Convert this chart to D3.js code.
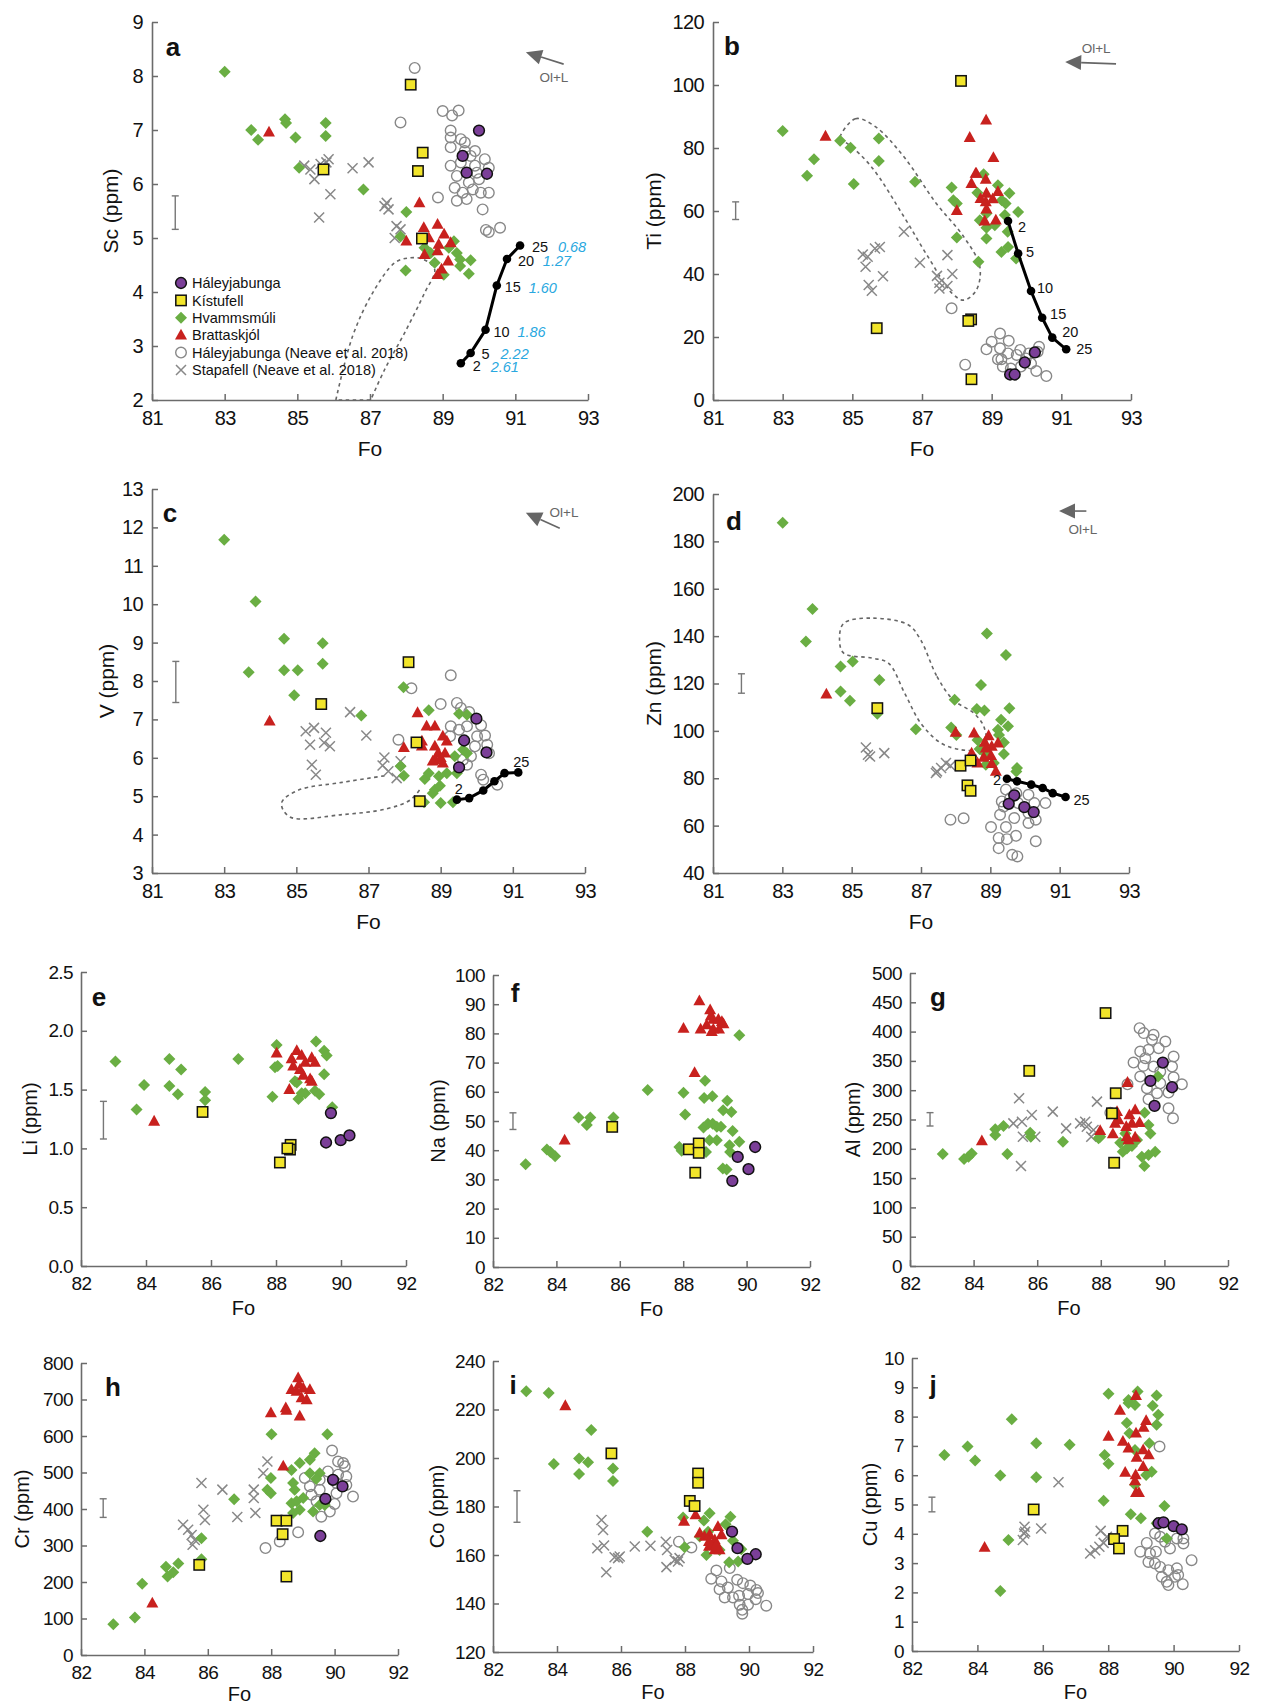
<!DOCTYPE html>
<html><head><meta charset="utf-8">
<script src="https://cdn.jsdelivr.net/npm/d3@7"></script>
<style>body{margin:0;background:#fff} svg text{font-family:"Liberation Sans",Arial,sans-serif}</style>
</head><body><svg id="c" width="1263" height="1707"></svg>
<script>
// ---------- DATA (Fo, value) ----------
// a: Sc
const sc_hal=[[90.0,6.99],[89.55,6.52],[89.66,6.21],[90.22,6.19]];
const sc_kis=[[88.12,7.84],[85.72,6.27],[88.45,6.58],[88.32,6.24],[88.43,4.99]];
const sc_hva=[[83.0,8.08],[83.73,7.0],[83.92,6.82],[84.66,7.2],[84.69,7.13],[84.95,6.86],[85.78,7.13],[85.78,6.89],[85.05,6.3],[86.82,5.9],[88.0,5.48],[87.98,4.4],[87.84,5.03],[88.67,4.72],[88.78,4.54],[89.03,4.32],[89.31,4.94],[89.39,4.72],[89.48,4.6],[89.48,4.48],[89.77,4.59],[89.72,4.34],[89.17,4.82],[88.5,4.82]];
const sc_bra=[[84.22,6.96],[88.36,5.65],[88.0,4.94],[88.48,5.19],[88.62,5.0],[88.86,5.25],[89.04,5.07],[89.22,4.91],[88.86,4.76],[88.5,4.69],[89.15,4.57],[88.97,4.42],[88.86,4.32],[88.89,4.88]];
const sc_neh=[[88.23,8.15],[87.84,7.14],[89.0,7.35],[89.26,7.27],[89.44,7.36],[89.22,6.99],[89.22,6.86],[89.5,6.83],[89.22,6.68],[89.61,6.77],[89.61,6.61],[89.89,6.61],[89.77,6.52],[89.5,6.4],[89.22,6.34],[89.89,6.34],[90.16,6.46],[90.27,6.3],[89.39,6.15],[90.0,6.09],[89.72,6.03],[89.33,5.93],[89.55,5.84],[89.83,5.9],[90.05,5.84],[90.27,5.84],[89.66,5.72],[88.87,5.75],[90.1,5.53],[90.19,5.15],[90.27,5.11],[90.58,5.19],[89.39,5.69],[89.94,6.21]];
const sc_sta=[[85.19,6.34],[85.36,6.27],[85.47,6.09],[85.64,6.37],[85.8,6.4],[85.86,6.46],[85.6,5.38],[85.91,5.81],[86.52,6.29],[86.96,6.4],[87.4,5.59],[87.46,5.65],[87.51,5.53],[87.73,5.22],[87.84,5.16],[87.68,5.0]];
const sc_model=[[89.5,2.68],[89.77,2.87],[90.18,3.3],[90.49,4.12],[90.77,4.61],[91.13,4.86]];
const sc_model_melt=["2.61","2.22","1.86","1.60","1.27","0.68"];
const sc_field=[[86.06,2.0],[86.52,3.18],[87.07,3.98],[87.68,4.54],[88.06,4.63],[88.45,4.61],[88.78,4.42],[88.5,3.98],[87.95,3.24],[87.4,2.56],[87.02,2.0]];
const sc_err=[81.64,5.16,5.78];
const sc_arrow=[[92.33,8.22],[91.29,8.44],[92.06,7.98]];
// b: Ti
const ti_hal=[[89.53,8.1],[89.66,8.1],[89.95,11.9],[90.24,15.1]];
const ti_kis=[[88.12,101.3],[85.7,22.8],[88.41,25.6],[88.33,25.1],[88.42,6.6]];
const ti_hva=[[83.0,85.4],[83.7,71.2],[83.9,76.4],[84.65,82.3],[84.95,80.1],[85.04,68.6],[85.76,83.0],[85.76,75.9],[86.8,69.3],[87.85,67.5],[87.9,63.4],[88.0,62.4],[88.0,51.6],[88.62,43.9],[88.59,65.8],[88.77,71.7],[89.18,68.2],[88.85,59.2],[88.66,57.1],[88.85,54.7],[88.85,51.3],[89.29,63.4],[89.4,62.4],[89.51,65.6],[89.76,59.7],[89.38,58.7],[89.46,53.4],[89.28,47.0],[89.47,48.6],[89.7,44.9],[89.09,55.5]];
const ti_bra=[[84.23,83.7],[88.84,88.8],[88.37,83.3],[89.05,76.9],[88.54,71.9],[88.42,68.7],[88.83,70.0],[88.56,71.9],[88.0,60.1],[88.85,65.6],[88.83,62.9],[89.03,63.8],[89.18,66.1],[88.85,60.6],[88.8,56.8],[89.12,57.1],[88.68,63.9]];
const ti_neh=[[87.85,29.1],[88.24,11.2],[88.85,16.1],[89.0,18.5],[89.24,21.1],[89.24,16.4],[89.49,18.8],[89.18,12.9],[89.28,12.9],[89.47,14.8],[89.32,10.6],[89.55,10.0],[89.72,14.3],[89.82,15.9],[89.98,13.2],[90.13,11.6],[90.28,9.2],[90.36,16.9],[90.32,15.3],[90.57,7.6],[89.84,10.6],[90.07,14.8]];
const ti_sta=[[85.3,46.2],[85.44,45.5],[85.38,42.3],[85.47,36.5],[85.56,34.7],[85.65,48.1],[85.79,48.6],[85.88,39.3],[86.48,53.4],[86.94,43.6],[87.43,39.4],[87.5,37.2],[87.5,35.4],[87.73,36.2],[87.73,46.0],[87.87,40.0]];
const ti_model=[[89.47,56.8],[89.76,46.5],[90.13,34.6],[90.45,26.1],[90.74,19.8],[91.14,16.1]];
const ti_field=[[84.63,82.5],[85.09,89.3],[85.67,86.7],[86.48,77.2],[87.41,62.4],[88.2,51.8],[88.66,42.3],[88.56,34.9],[88.2,31.7],[87.87,33.8],[87.17,45.5],[86.48,58.2],[85.55,74.0],[84.86,81.4]];
const ti_err=[81.65,57.3,62.9];
const ti_arrow=[[92.57,106.7],[91.11,107.3],[92.0,111.7]];
// c: V
const v_hal=[[89.99,7.02],[89.65,6.45],[90.27,6.14],[89.51,5.75]];
const v_kis=[[88.11,8.49],[85.69,7.4],[88.33,6.4],[88.42,4.87]];
const v_hva=[[83.0,11.68],[83.87,10.07],[83.68,8.23],[84.66,9.1],[84.66,8.28],[85.04,8.28],[85.73,8.98],[85.73,8.45],[84.94,7.63],[86.8,7.1],[87.97,7.84],[88.67,7.24],[89.51,7.15],[89.73,7.12],[87.89,5.78],[87.98,5.53],[88.56,5.45],[88.78,5.08],[88.84,5.17],[88.98,5.27],[88.67,5.6],[89.0,4.82],[89.34,4.84],[89.17,5.6],[89.45,5.6],[89.39,6.04],[89.62,6.21],[89.73,6.12],[88.54,4.84],[88.95,5.52]];
const v_bra=[[84.26,6.95],[88.36,7.17],[87.98,6.26],[88.61,6.82],[88.84,6.82],[88.48,6.43],[88.48,6.3],[88.84,6.3],[89.06,6.56],[89.17,6.43],[88.93,6.12],[88.84,5.95],[89.06,5.86],[88.78,5.91],[89.0,6.0],[89.12,6.12]];
const v_neh=[[89.28,8.15],[88.19,7.81],[89.0,7.4],[89.45,7.43],[89.56,7.3],[89.79,7.19],[87.83,6.47],[89.28,6.82],[89.51,6.73],[89.73,6.82],[90.12,6.85],[90.23,6.58],[90.01,6.56],[89.26,6.56],[89.95,6.3],[90.29,6.34],[89.84,6.04],[89.62,5.95],[89.73,5.82],[90.12,5.56],[90.18,5.43],[90.57,5.3],[90.34,6.12]];
const v_sta=[[85.26,6.69],[85.49,6.78],[85.38,6.34],[85.82,6.65],[85.77,6.39],[85.93,6.3],[85.43,5.82],[85.54,5.56],[86.49,7.19],[86.94,6.58],[87.44,6.01],[87.39,5.8],[87.55,5.65],[87.78,5.47],[87.89,5.91]];
const v_model=[[89.45,4.91],[89.79,4.95],[90.18,5.15],[90.49,5.39],[90.77,5.6],[91.15,5.62]];
const v_field=[[87.44,5.53],[86.27,5.36],[85.04,5.15],[84.59,4.82],[84.82,4.46],[86.27,4.52],[87.5,4.67],[88.17,4.91],[88.45,5.21]];
const v_err=[81.66,7.44,8.51];
const v_arrow=[[92.3,11.98],[91.36,12.38],[92.42,12.4]];
// d: Zn
const zn_hal=[[89.69,72.8],[89.53,69.2],[89.98,67.8],[90.25,65.7]];
const zn_kis=[[85.74,109.6],[88.14,85.3],[88.34,77.0],[88.43,74.7],[88.43,87.5]];
const zn_hva=[[83.01,187.9],[83.87,151.5],[83.68,137.7],[84.68,127.2],[85.03,129.3],[84.68,116.6],[84.95,112.7],[85.8,121.5],[85.74,107.2],[86.85,100.7],[87.97,113.1],[87.87,101.4],[88.02,98.3],[88.9,141.1],[89.45,132.0],[88.73,119.4],[88.61,109.2],[88.83,108.6],[89.55,109.6],[89.31,104.7],[89.51,101.9],[89.22,100.5],[89.25,98.3],[89.39,95.1],[89.39,90.2],[88.63,96.2],[88.69,92.3],[88.84,90.6],[89.77,84.3],[89.75,82.9],[88.87,85.7],[89.1,86.4]];
const zn_bra=[[84.27,115.5],[88.0,99.3],[88.53,99.0],[88.95,97.9],[88.84,95.1],[89.04,93.4],[89.22,94.8],[88.46,90.6],[88.43,88.8],[88.81,88.8],[89.02,89.5],[88.63,86.4],[89.04,86.1],[89.16,82.9],[88.87,92.7]];
const zn_neh=[[87.85,62.5],[88.23,63.1],[89.45,75.2],[89.75,73.7],[90.1,73.0],[89.33,70.2],[89.39,68.1],[89.8,69.5],[90.27,69.5],[90.59,69.5],[89.28,64.6],[89.69,63.2],[90.1,65.3],[90.31,62.5],[90.1,61.1],[89.02,59.4],[89.45,59.4],[89.74,55.7],[89.24,54.8],[89.48,54.3],[90.31,53.4],[89.24,50.5],[89.63,47.7],[89.78,47.0],[89.57,71.6]];
const zn_sta=[[85.41,93.0],[85.47,89.9],[85.94,90.6],[85.53,89.2],[87.43,82.2],[87.58,84.3],[87.72,86.4],[87.85,85.3],[87.46,82.9]];
const zn_model=[[89.48,79.8],[89.77,78.7],[90.18,77.3],[90.51,75.9],[90.8,73.7],[91.17,72.1]];
const zn_field=[[86.99,138.4],[87.46,123.0],[87.93,113.1],[88.52,107.5],[88.81,101.9],[88.87,93.4],[88.63,92.0],[88.16,92.0],[87.58,94.8],[86.99,103.3],[86.53,115.9],[86.06,128.6],[85.59,130.7],[84.77,132.8],[84.65,138.4],[84.77,145.4],[85.59,147.6],[86.64,144.7]];
const zn_err=[81.82,115.9,124.1];
const zn_arrow=[[91.77,192.8],[90.98,192.8],[91.67,185.2]];
// e: Li
const li_hal=[[89.69,1.30],[89.54,1.05],[89.99,1.07],[90.26,1.11]];
const li_kis=[[85.74,1.31],[88.12,0.88],[88.45,1.03],[88.43,0.99],[88.35,1.0]];
const li_hva=[[83.06,1.74],[83.94,1.54],[83.71,1.33],[84.72,1.76],[84.72,1.53],[85.08,1.67],[84.98,1.46],[85.82,1.48],[85.82,1.41],[86.84,1.76],[88.02,1.88],[87.97,1.69],[88.05,1.7],[87.89,1.44],[88.69,1.42],[88.79,1.47],[88.9,1.47],[89.23,1.91],[89.48,1.83],[89.56,1.79],[89.48,1.63],[89.2,1.49],[89.33,1.46],[89.73,1.35],[88.58,1.57],[88.64,1.56]];
const li_bra=[[84.25,1.23],[88.02,1.81],[88.41,1.5],[88.64,1.83],[88.48,1.76],[88.53,1.7],[88.79,1.79],[88.9,1.73],[89.1,1.77],[89.2,1.73],[88.84,1.62],[89.05,1.59],[89.1,1.57],[88.74,1.67]];
const li_err=[82.69,1.08,1.40];
// f: Na
const na_hal=[[90.27,41.1],[89.72,37.7],[90.06,33.5],[89.55,29.5]];
const na_kis=[[85.76,48.0],[88.18,40.3],[88.49,42.3],[88.49,39.1],[88.38,32.3]];
const na_hva=[[83.03,35.2],[83.7,40.2],[83.81,39.4],[83.96,37.9],[84.7,51.2],[84.96,48.6],[85.07,51.2],[85.8,51.2],[86.88,60.6],[88.01,59.7],[88.06,52.2],[87.88,41.1],[87.95,39.8],[88.69,63.8],[88.66,57.9],[88.92,58.5],[89.39,56.9],[89.26,53.7],[89.52,53.1],[88.64,47.8],[88.78,49.1],[88.93,49.1],[89.06,48.0],[89.19,48.0],[89.56,46.6],[89.77,42.9],[88.83,43.4],[89.06,43.4],[89.46,41.7],[89.48,39.4],[88.72,39.4],[89.25,33.7],[89.37,33.4],[89.77,79.4]];
const na_bra=[[84.26,43.4],[88.01,81.7],[88.51,91.1],[88.36,66.5],[88.55,81.4],[88.85,88.0],[88.87,85.9],[88.95,84.8],[89.11,84.8],[89.22,84.0],[88.74,82.9],[88.95,81.4],[89.13,81.4],[88.9,80.6],[89.27,83.2]];
const na_err=[82.63,47.1,52.8];
// g: Al
const al_hal=[[89.95,347.2],[89.56,315.8],[90.24,305.0],[89.69,273.1]];
const al_kis=[[88.15,431.6],[85.75,333.0],[88.47,294.8],[88.35,260.5],[88.42,176.2]];
const al_hva=[[83.03,191],[83.7,182.4],[83.84,186.4],[83.94,192.1],[84.68,233.2],[84.68,223.5],[84.94,238.9],[85.06,191.0],[85.78,227.5],[85.8,220.6],[86.81,212.1],[87.93,217.8],[87.98,220.6],[88.61,210.4],[88.69,195.0],[88.82,200.7],[88.98,204.7],[89.14,214.9],[89.38,261.7],[89.5,240.6],[89.56,226.3],[89.29,186.4],[89.37,170.5],[89.5,189.3],[89.71,195.0],[89.8,323.3],[88.77,226.3]];
const al_bra=[[84.26,213.2],[88.84,313.0],[87.98,230.9],[88.38,225.2],[88.51,263.4],[88.56,249.2],[88.45,243.4],[88.9,257.7],[89.08,266.2],[88.8,237.7],[88.98,243.4],[89.22,244.6],[88.82,220.6],[89.08,219.5],[88.87,214.9]];
const al_neh=[[89.22,405.9],[89.35,397.4],[89.66,394.5],[90.03,383.1],[89.61,386.0],[89.24,366.0],[89.5,368.9],[89.82,371.7],[89.03,347.2],[89.4,354.6],[90.29,357.5],[89.34,341.5],[89.66,340.4],[90.24,340.4],[89.24,323.3],[89.87,331.8],[90.29,322.1],[90.55,310.1],[89.45,303.3],[89.77,294.8],[90.13,295.9],[89.5,284.5],[90.13,269.1],[90.27,252.0],[88.3,261.7],[88.84,310.1],[89.87,311.8]];
const al_sta=[[85.43,286.2],[85.25,243.4],[85.52,246.3],[85.83,257.7],[85.55,220.6],[85.94,220.6],[85.49,170.5],[86.49,263.4],[86.91,234.9],[87.35,243.4],[87.51,246.3],[87.56,237.7],[87.77,232.0],[87.7,220.6],[87.88,280.5]];
const al_err=[82.63,238.9,261.7];
// h: Cr
const cr_hal=[[89.95,480],[90.25,462],[89.71,428],[89.55,326]];
const cr_kis=[[85.73,247],[88.17,368],[88.48,368],[88.36,331],[88.48,215]];
const cr_hva=[[83.02,84],[83.7,103],[83.93,195],[84.68,242],[84.73,215],[84.91,227],[85.07,251],[85.8,320],[85.8,262],[86.83,427],[88.01,605],[89.77,605],[87.99,485],[87.88,453],[87.99,443],[88.64,507],[88.9,526],[89.37,553],[89.22,535],[89.53,498],[89.42,482],[88.69,471],[88.74,453],[88.64,416],[88.8,421],[89.01,430],[88.9,398],[88.69,389],[89.32,393],[89.53,411],[89.69,411],[89.22,498]];
const cr_bra=[[84.25,142],[87.99,663],[88.46,677],[88.48,670],[88.9,654],[88.85,759],[88.38,517],[88.64,727],[88.8,722],[89.01,731],[89.22,727],[88.96,704],[89.12,699],[88.88,741]];
const cr_neh=[[87.82,293],[88.27,311],[88.85,336],[89.92,560],[90.11,530],[90.32,517],[89.06,485],[89.22,462],[89.53,480],[90.11,494],[90.37,489],[90.06,471],[90.37,466],[89.27,439],[89.53,453],[90.06,443],[90.58,434],[89.43,421],[90.0,414],[89.85,393],[89.58,379],[90.27,526],[89.79,503]];
const cr_sta=[[85.22,357],[85.38,343],[85.49,329],[85.52,302],[85.59,315],[85.8,471],[85.86,398],[85.91,370],[86.46,453],[86.93,378],[87.45,453],[87.45,430],[87.5,389],[87.75,498],[87.88,530]];
const cr_err=[82.7,377,428];
// i: Co
const co_hal=[[89.47,169.6],[89.64,162.8],[90.21,160.3],[89.95,158.4]];
const co_kis=[[85.7,201.9],[88.41,193.6],[88.41,189.8],[88.15,182.3],[88.3,180.2]];
const co_hva=[[83.04,227.5],[83.74,226.8],[83.9,197.5],[85.07,211.5],[84.69,199.8],[84.97,198.2],[84.69,193.4],[85.75,195.7],[85.75,190.5],[86.82,169.6],[87.94,175.5],[87.99,163.2],[88.59,174.2],[88.77,177.2],[89.42,175.8],[88.67,160.0],[89.08,162.1],[89.38,157.0],[89.66,157.3],[89.27,172.7],[89.5,165.9],[89.76,162.4],[88.72,169.6],[88.46,167.6]];
const co_bra=[[84.26,221.5],[87.97,173.8],[88.33,176.5],[88.46,169.0],[88.61,167.6],[88.77,168.3],[88.93,166.2],[89.03,171.7],[89.14,168.3],[88.75,163.5],[88.93,162.1],[89.08,162.1],[88.75,165.5],[88.98,164.2]];
const co_neh=[[87.81,165.5],[88.2,163.1],[88.98,153.6],[88.82,150.2],[89.14,149.1],[89.4,154.6],[89.63,149.8],[89.08,145.9],[89.34,146.6],[89.81,148.4],[90.04,147.4],[89.24,142.5],[89.69,143.2],[89.5,142.5],[89.97,143.9],[90.23,145.6],[90.28,144.3],[90.21,141.8],[89.71,139.5],[89.79,137.4],[89.79,135.8],[89.97,139.5],[90.54,139.1]];
const co_sta=[[85.39,174.4],[85.44,170.3],[85.26,162.8],[85.47,163.9],[85.54,152.9],[85.8,159.1],[85.91,158.7],[85.96,159.4],[86.43,163.5],[86.92,163.8],[87.4,165.5],[87.44,162.1],[87.42,155.0],[87.68,158.0],[87.78,157.3],[87.83,158.7]];
const co_err=[82.75,173.5,186.5];
// j: Cu
const cu_hal=[[89.54,4.36],[89.69,4.39],[90.0,4.26],[90.25,4.15]];
const cu_kis=[[85.72,4.83],[88.44,4.1],[88.18,3.82],[88.33,3.5]];
const cu_hva=[[82.99,6.69],[83.7,6.98],[83.93,6.5],[84.7,5.99],[85.05,7.91],[84.95,3.79],[84.7,2.05],[85.8,7.09],[85.8,5.93],[86.82,7.04],[88.01,8.78],[87.89,6.69],[88.01,6.39],[87.86,5.13],[88.69,4.67],[89.0,4.53],[88.62,8.57],[88.62,8.46],[88.9,8.86],[88.82,8.4],[89.48,8.72],[89.36,8.37],[89.53,8.06],[88.57,7.78],[89.48,7.72],[88.65,7.43],[89.26,7.09],[88.82,6.86],[89.33,6.12],[89.16,6.01],[88.82,5.67],[89.72,4.95],[89.79,3.84],[89.48,4.36]];
const cu_bra=[[84.22,3.53],[88.85,8.71],[88.36,8.21],[88.01,7.32],[88.45,7.15],[88.62,6.92],[89.16,7.86],[89.08,7.63],[88.85,7.43],[89.07,6.86],[89.24,6.69],[88.87,6.61],[89.07,6.29],[88.52,6.09],[88.84,6.01],[88.82,5.8],[88.85,5.4],[88.94,5.4]];
const cu_neh=[[89.57,6.98],[88.98,3.39],[89.18,3.69],[89.28,3.33],[89.23,3.04],[89.46,3.39],[89.59,3.9],[89.74,3.73],[89.89,3.5],[90.1,3.84],[90.3,3.84],[90.3,3.67],[89.43,2.99],[89.59,2.87],[89.84,2.76],[89.64,2.53],[89.79,2.36],[89.84,2.25],[90.04,2.53],[90.14,2.59],[90.28,2.28],[90.55,3.1],[90.1,2.82],[89.43,4.01]];
const cu_sta=[[85.43,4.01],[85.44,4.24],[85.46,4.07],[85.39,3.79],[85.95,4.18],[86.48,5.76],[87.45,3.33],[87.6,3.44],[87.73,3.56],[87.77,4.1],[87.96,3.9],[87.86,3.69]];
const cu_err=[82.61,4.75,5.25];

const model_steps=["2","5","10","15","20","25"];
const legend_names=["Háleyjabunga","Kístufell","Hvammsmúli","Brattaskjól","Háleyjabunga (Neave et al. 2018)","Stapafell (Neave et al. 2018)"];
const top_fo_ticks=[81,83,85,87,89,91,93];
const bot_fo_ticks=[82,84,86,88,90,92];

// ---------- STYLE ----------
const C={hal:"#7b3f98",kis:"#f2e52b",hva:"#6aae43",bra:"#c8211e",grey:"#888888",axis:"#6b6b6b",blue:"#29a8e0"};
// label offsets (pixels) for model-step labels: [dx, dy] of label centre
const offA=[[16,3],[15,1],[16,2],[16,1],[19,2],[20,1]];
const offAblue=[[44,4],[44,1],[46,2],[46,2],[50,2],[52,1]];
const offB=[[14,6],[12,-2],[14,-3],[16,-4],[18,-6],[18,0]];
const svg=d3.select("#c");

function drawMarker(g,type){
  if(type==="hal") g.append("circle").attr("r",5.4).attr("fill",C.hal).attr("stroke","#111").attr("stroke-width",1.5);
  else if(type==="kis") g.append("rect").attr("x",-5.2).attr("y",-5.2).attr("width",10.4).attr("height",10.4).attr("fill",C.kis).attr("stroke","#111").attr("stroke-width",1.5);
  else if(type==="hva") g.append("path").attr("d","M0,-6L6,0L0,6L-6,0Z").attr("fill",C.hva);
  else if(type==="bra") g.append("path").attr("d","M0,-6.5L6,4.3L-6,4.3Z").attr("fill",C.bra);
  else if(type==="neh") g.append("circle").attr("r",5.3).attr("fill","none").attr("stroke",C.grey).attr("stroke-width",1.4);
  else if(type==="sta") g.append("path").attr("d","M-5,-5L5,5M-5,5L5,-5").attr("stroke",C.grey).attr("stroke-width",1.5).attr("fill","none");
}

function panel(cfg){
  const g=svg.append("g");
  const x=d3.scaleLinear().domain(cfg.xd).range([cfg.x0,cfg.x1]);
  const y=d3.scaleLinear().domain(cfg.yd).range([cfg.y0,cfg.y1]);
  const fs=cfg.big?20:19;
  const xa=g.append("g").attr("transform",`translate(0,${cfg.y0})`)
    .call(d3.axisBottom(x).tickValues(cfg.xt).tickSizeInner(-6).tickSizeOuter(0).tickPadding(11).tickFormat(d3.format("d")));
  const ya=g.append("g").attr("transform",`translate(${cfg.x0},0)`)
    .call(d3.axisLeft(y).tickValues(cfg.yt).tickSizeInner(-6).tickSizeOuter(0).tickPadding(cfg.big?9:8).tickFormat(cfg.yf||d3.format("d")));
  [xa,ya].forEach(a=>{
    a.attr("font-size",fs).attr("font-family","Liberation Sans, Arial, sans-serif");
    a.select(".domain").attr("stroke",C.axis).attr("stroke-width",1.6);
    a.selectAll(".tick line").attr("stroke",C.axis).attr("stroke-width",1.5);
    a.selectAll(".tick text").attr("fill","#111").attr("letter-spacing",-0.6);
  });
  g.append("text").attr("x",(cfg.x0+cfg.x1)/2).attr("y",cfg.y0+cfg.xtOff).attr("text-anchor","middle")
    .attr("font-size",cfg.big?21:20).attr("fill","#111").text("Fo");
  g.append("text").attr("transform",`translate(${cfg.x0+cfg.ytOff},${(cfg.y0+cfg.y1)/2}) rotate(-90)`)
    .attr("text-anchor","middle").attr("dy","0.35em").attr("font-size",cfg.big?21:20).attr("fill","#111").text(cfg.ylab);
  g.append("text").attr("x",cfg.x0+cfg.let[0]).attr("y",cfg.y1+cfg.let[1]).attr("text-anchor","middle")
    .attr("font-size",26).attr("font-weight","bold").attr("fill","#111").text(cfg.letter);
  const e=cfg.err;
  const eg=g.append("g").attr("stroke","#777").attr("stroke-width",1.4);
  eg.append("line").attr("x1",x(e[0])).attr("x2",x(e[0])).attr("y1",y(e[1])).attr("y2",y(e[2]));
  [e[1],e[2]].forEach(v=>eg.append("line").attr("x1",x(e[0])-3.5).attr("x2",x(e[0])+3.5).attr("y1",y(v)).attr("y2",y(v)));
  if(cfg.field){
    const ln=d3.line().x(d=>x(d[0])).y(d=>y(d[1])).curve(cfg.fieldClosed?d3.curveCatmullRomClosed:d3.curveCatmullRom);
    let dd=ln(cfg.field); if(cfg.fieldZ) dd+="Z";
    g.append("path").attr("d",dd).attr("fill","none").attr("stroke","#666").attr("stroke-width",1.6).attr("stroke-dasharray","3.5,3.5");
  }
  const order=[["neh",cfg.neh],["sta",cfg.sta],["hva",cfg.hva],["bra",cfg.bra],["kis",cfg.kis],["hal",cfg.hal]];
  order.forEach(([t,arr])=>{
    if(!arr) return;
    arr.forEach(d=>{const m=g.append("g").attr("transform",`translate(${x(d[0])},${y(d[1])})`); drawMarker(m,t);});
  });
  if(cfg.model){
    g.append("path").attr("d",d3.line().x(d=>x(d[0])).y(d=>y(d[1]))(cfg.model)).attr("fill","none").attr("stroke","#000").attr("stroke-width",3);
    cfg.model.forEach(d=>g.append("circle").attr("cx",x(d[0])).attr("cy",y(d[1])).attr("r",4.3).attr("fill","#000"));
    cfg.model.forEach((d,i)=>{
      const px=x(d[0]),py=y(d[1]);
      const lab=model_steps[i];
      if(cfg.modelMode==="right"){
        const o=cfg.off[i];
        g.append("text").attr("x",px+o[0]).attr("y",py+o[1]).attr("dy","0.35em").attr("text-anchor","middle").attr("font-size",14.5).attr("fill","#111").text(lab);
        if(cfg.melt){const b=cfg.offBlue[i];
          g.append("text").attr("x",px+b[0]).attr("y",py+b[1]).attr("dy","0.35em").attr("text-anchor","middle").attr("font-size",14.5).attr("font-style","italic").attr("fill",C.blue).text(cfg.melt[i]);}
      } else if(cfg.modelMode==="ends"){
        if(i===0) g.append("text").attr("x",px+cfg.endOff[0][0]).attr("y",py+cfg.endOff[0][1]).attr("text-anchor","middle").attr("font-size",14.5).attr("fill","#111").text(lab);
        if(i===cfg.model.length-1) g.append("text").attr("x",px+cfg.endOff[1][0]).attr("y",py+cfg.endOff[1][1]).attr("text-anchor","middle").attr("font-size",14.5).attr("fill","#111").text(lab);
      }
    });
  }
  if(cfg.arrow){
    const [t,h,l]=cfg.arrow;
    const tx=x(t[0]),ty=y(t[1]),hx=x(h[0]),hy=y(h[1]);
    const ang=Math.atan2(hy-ty,hx-tx), L=16, Wd=7.5;
    const bx=hx-L*Math.cos(ang), by=hy-L*Math.sin(ang);
    g.append("line").attr("x1",tx).attr("y1",ty).attr("x2",bx).attr("y2",by).attr("stroke","#666").attr("stroke-width",1.6);
    g.append("path").attr("d",`M${hx},${hy}L${bx-Wd*Math.sin(ang)},${by+Wd*Math.cos(ang)}L${bx+Wd*Math.sin(ang)},${by-Wd*Math.cos(ang)}Z`).attr("fill","#666");
    g.append("text").attr("x",x(l[0])).attr("y",y(l[1])).attr("dy","0.35em").attr("text-anchor","middle").attr("font-size",13.5).attr("fill","#666").text("Ol+L");
  }
  return {g,x,y};
}

const fmt1=d3.format(".1f");
panel({x0:152,x1:588,y0:400,y1:22,xd:[81,93],yd:[2,9],xt:top_fo_ticks,yt:d3.range(2,10),big:true,
  ylab:"Sc (ppm)",letter:"a",let:[21,34],xtOff:56,ytOff:-41,
  hal:sc_hal,kis:sc_kis,hva:sc_hva,bra:sc_bra,neh:sc_neh,sta:sc_sta,err:sc_err,
  field:sc_field,fieldZ:true,model:sc_model,modelMode:"right",off:offA,offBlue:offAblue,melt:sc_model_melt,arrow:sc_arrow});
panel({x0:713,x1:1131,y0:400,y1:22,xd:[81,93],yd:[0,120],xt:top_fo_ticks,yt:d3.range(0,121,20),big:true,
  ylab:"Ti (ppm)",letter:"b",let:[19,33],xtOff:56,ytOff:-59,
  hal:ti_hal,kis:ti_kis,hva:ti_hva,bra:ti_bra,neh:ti_neh,sta:ti_sta,err:ti_err,
  field:ti_field,fieldClosed:true,model:ti_model,modelMode:"right",off:offB,arrow:ti_arrow});
panel({x0:152,x1:585,y0:873,y1:489,xd:[81,93],yd:[3,13],xt:top_fo_ticks,yt:d3.range(3,14),big:true,
  ylab:"V (ppm)",letter:"c",let:[18,33],xtOff:56,ytOff:-45,
  hal:v_hal,kis:v_kis,hva:v_hva,bra:v_bra,neh:v_neh,sta:v_sta,err:v_err,
  field:v_field,model:v_model,modelMode:"ends",endOff:[[2,-6],[3,-5]],arrow:v_arrow});
panel({x0:713,x1:1129,y0:873,y1:494,xd:[81,93],yd:[40,200],xt:top_fo_ticks,yt:d3.range(40,201,20),big:true,
  ylab:"Zn (ppm)",letter:"d",let:[21,36],xtOff:56,ytOff:-59,
  hal:zn_hal,kis:zn_kis,hva:zn_hva,bra:zn_bra,neh:zn_neh,sta:zn_sta,err:zn_err,
  field:zn_field,fieldClosed:true,model:zn_model,modelMode:"ends",endOff:[[-10,6],[16,8]],arrow:zn_arrow});
panel({x0:81,x1:406,y0:1266,y1:972,xd:[82,92],yd:[0,2.5],xt:bot_fo_ticks,yt:d3.range(0,2.51,0.5),yf:fmt1,
  ylab:"Li (ppm)",letter:"e",let:[18,34],xtOff:49,ytOff:-51,
  hal:li_hal,kis:li_kis,hva:li_hva,bra:li_bra,err:li_err});
panel({x0:493,x1:810,y0:1267,y1:975,xd:[82,92],yd:[0,100],xt:bot_fo_ticks,yt:d3.range(0,101,10),
  ylab:"Na (ppm)",letter:"f",let:[22,27],xtOff:49,ytOff:-55,
  hal:na_hal,kis:na_kis,hva:na_hva,bra:na_bra,err:na_err});
panel({x0:910,x1:1228,y0:1266,y1:973,xd:[82,92],yd:[0,500],xt:bot_fo_ticks,yt:d3.range(0,501,50),
  ylab:"Al (ppm)",letter:"g",let:[28,33],xtOff:49,ytOff:-57,
  hal:al_hal,kis:al_kis,hva:al_hva,bra:al_bra,neh:al_neh,sta:al_sta,err:al_err});
panel({x0:81,x1:398,y0:1655,y1:1363,xd:[82,92],yd:[0,800],xt:bot_fo_ticks,yt:d3.range(0,801,100),
  ylab:"Cr (ppm)",letter:"h",let:[32,33],xtOff:46,ytOff:-59,
  hal:cr_hal,kis:cr_kis,hva:cr_hva,bra:cr_bra,neh:cr_neh,sta:cr_sta,err:cr_err});
panel({x0:493,x1:813,y0:1652,y1:1361,xd:[82,92],yd:[120,240],xt:bot_fo_ticks,yt:d3.range(120,241,20),
  ylab:"Co (ppm)",letter:"i",let:[20,33],xtOff:47,ytOff:-56,
  hal:co_hal,kis:co_kis,hva:co_hva,bra:co_bra,neh:co_neh,sta:co_sta,err:co_err});
panel({x0:912,x1:1239,y0:1651,y1:1358,xd:[82,92],yd:[0,10],xt:bot_fo_ticks,yt:d3.range(0,11,1),
  ylab:"Cu (ppm)",letter:"j",let:[21,36],xtOff:48,ytOff:-42,
  hal:cu_hal,kis:cu_kis,hva:cu_hva,bra:cu_bra,neh:cu_neh,sta:cu_sta,err:cu_err});

// legend in panel a
const lg=svg.append("g").attr("transform","translate(181,283)");
["hal","kis","hva","bra","neh","sta"].forEach((t,i)=>{
  const r=lg.append("g").attr("transform",`translate(0,${i*17.4})`);
  drawMarker(r.append("g"),t);
  r.append("text").attr("x",11).attr("y",0).attr("dy","0.36em").attr("font-size",14.5).attr("fill","#111").text(legend_names[i]);
});
</script></body></html>
